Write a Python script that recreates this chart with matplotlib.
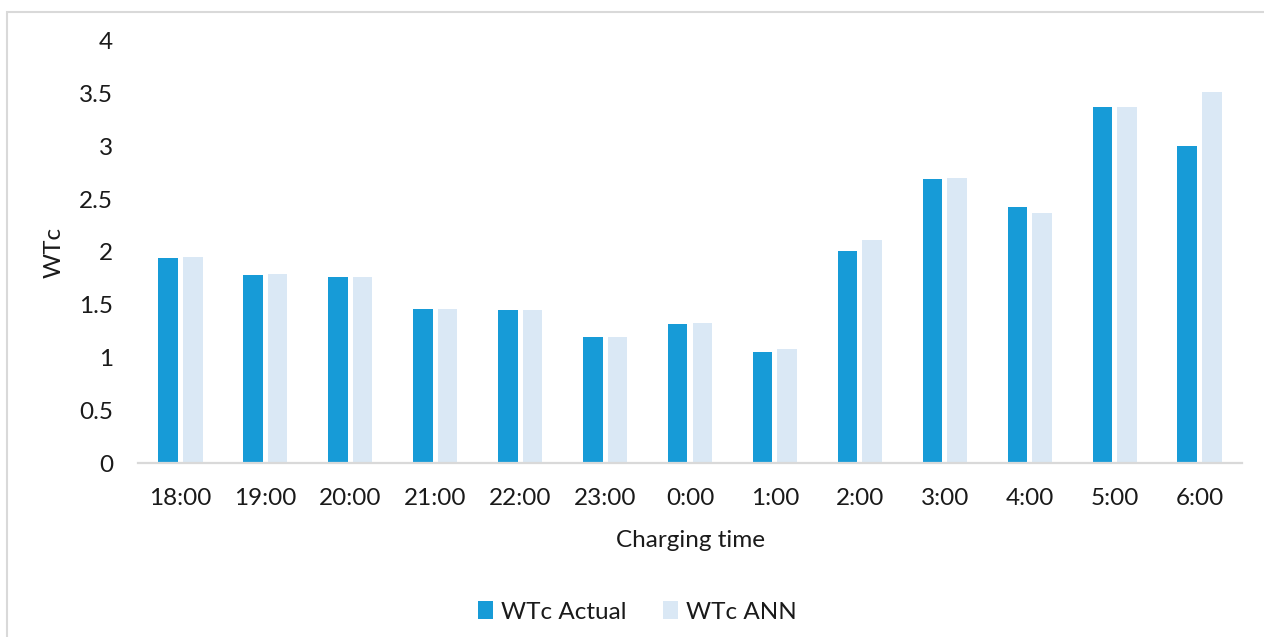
import matplotlib
matplotlib.use("Agg")
import matplotlib.pyplot as plt
import numpy as np
from matplotlib.patches import Rectangle

categories = ["18:00", "19:00", "20:00", "21:00", "22:00", "23:00", "0:00",
              "1:00", "2:00", "3:00", "4:00", "5:00", "6:00"]
wtc_actual = [1.94, 1.785, 1.765, 1.46, 1.45, 1.20, 1.32, 1.05, 2.01, 2.695, 2.43, 3.375, 3.00]
wtc_ann = [1.955, 1.795, 1.765, 1.46, 1.45, 1.20, 1.33, 1.085, 2.11, 2.705, 2.365, 3.375, 3.515]
yticks = [0, 0.5, 1, 1.5, 2, 2.5, 3, 3.5, 4]
ytick_labels = ["0", "0.5", "1", "1.5", "2", "2.5", "3", "3.5", "4"]

plt.rcParams['font.family'] = ['Lato', 'DejaVu Sans']

W, H = 1264, 637
FS = 17.5
TXT = "#1a1a1a"
fig = plt.figure(figsize=(W / 100, H / 100), dpi=100)
fig.patch.set_facecolor("white")

# Chart-area frame
fig.patches.append(Rectangle((6.5 / W, -0.05), 1.2, 1 - 11.5 / H + 0.05,
                             transform=fig.transFigure, fill=False,
                             edgecolor="#D9D9D9", linewidth=1.5))

ax = fig.add_axes([138 / W, 1 - 463.3 / H, (1242 - 138) / W, (463.3 - 40.7) / H])
x = np.arange(len(categories))
bw = 0.23
off = 0.145
c_actual = "#179BD7"
c_ann = "#DAE8F5"
ax.bar(x - off, wtc_actual, width=bw, color=c_actual, label="WTc Actual")
ax.bar(x + off, wtc_ann, width=bw, color=c_ann, label="WTc ANN")

ax.set_xlim(-0.5, len(categories) - 0.5)
ax.set_ylim(0, 4)
ax.set_yticks(yticks)
ax.set_yticklabels(ytick_labels)
ax.set_xticks(x)
ax.set_xticklabels(categories)
ax.tick_params(axis="both", length=0, labelsize=FS, colors=TXT)
ax.tick_params(axis="x", pad=18)
ax.tick_params(axis="y", pad=18)

for s in ["top", "right", "left"]:
    ax.spines[s].set_visible(False)
ax.spines["bottom"].set_color("#D9D9D9")
ax.spines["bottom"].set_linewidth(1.6)

fig.text(690 / W, 1 - 546.7 / H, "Charging time", ha="center", va="baseline",
         fontsize=FS, color=TXT)
fig.text(54 / W, 1 - 252 / H, "WTc", ha="center", va="center", rotation=90,
         fontsize=FS, color=TXT)

fig.legend(loc="center", bbox_to_anchor=(637 / W, 1 - 612 / H), ncol=2,
           frameon=False, fontsize=FS, handlelength=0.65, handleheight=0.7,
           handletextpad=0.3, columnspacing=1.5, labelcolor=TXT)

fig.savefig("out.png", dpi=100, facecolor="white")
